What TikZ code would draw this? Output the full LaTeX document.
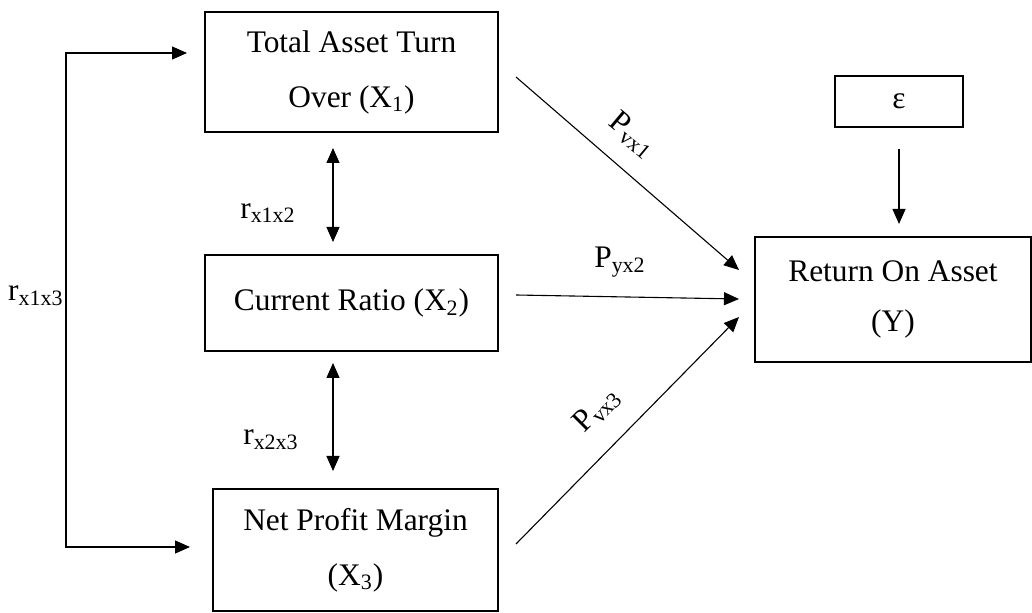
\documentclass[tikz,border=0pt]{standalone}
\usepackage{fontspec}
\setmainfont{Liberation Serif}
\usetikzlibrary{arrows.meta,calc}
\begin{document}
\begin{tikzpicture}[x=0.5pt,y=-0.5pt,
  box/.style={draw, line width=1pt, inner sep=0pt, align=center,
    font=\fontsize{15.7pt}{27.5pt}\selectfont},
  tip/.tip={Triangle[length=7.5pt,width=6.5pt]},
  con/.style={line width=0.55pt, -tip},
  dcon/.style={line width=0.55pt, tip-tip},
  lbl/.style={inner sep=0pt, font=\fontsize{15.7pt}{18pt}\selectfont}]
\useasboundingbox (0,0) rectangle (1032,613);

% variables and outcome
\node[box, minimum width=146.5pt, minimum height=60pt] (X1) at (351.5,72)
  {Total Asset Turn\\Over (X\textsubscript{1})};
\node[box, minimum width=146.5pt, minimum height=48pt] (X2) at (351.5,303)
  {Current Ratio (X\textsubscript{2})};
\node[box, minimum width=142.5pt, minimum height=61pt] (X3) at (355.5,550)
  {Net Profit Margin\\(X\textsubscript{3})};
\node[box, minimum width=64pt, minimum height=25.5pt] (E) at (899,101.5) {ε};
\node[box, minimum width=138pt, minimum height=62.5pt,
  font=\fontsize{15.7pt}{25pt}\selectfont] (Y) at (893,299.5)
  {Return On Asset\\(Y)};

% path coefficients
\draw[con] ($(X1.east)+(17,5)$) -- ($(Y.west)+(-15,-29.5)$);
\draw[con] ($(X2.east)+(17,-8)$) -- ($(Y.west)+(-15,-0.5)$);
\draw[con] ($(X3.east)+(17,-6)$) -- ($(Y.west)+(-15,17.5)$);
\draw[con] ($(E.south)+(0,21)$) -- ($(E.south |- Y.north)+(0,-12)$);

% correlations
\draw[dcon] ($(X1.south)+(-18.5,15)$) -- ($(X2.north)+(-18.5,-12)$);
\draw[dcon] ($(X2.south)+(-18.5,11)$) -- ($(X3.north)+(-22.5,-17)$);
\draw[dcon] ($(X1.west)+(-17,-19)$) -- ++(-121,0) |- ($(X3.west)+(-22,-3)$);

% labels
\node[lbl] (r12) at (268,213) {r\textsubscript{x1x2}};
\node[lbl] (r23) at (271,440) {r\textsubscript{x2x3}};
\node[lbl, anchor=east] (r13) at (64,296) {r\textsubscript{x1x3}};
\node[lbl] (p2) at (620,262) {P\textsubscript{yx2}};
\node[lbl, rotate=-40] (p1) at (632,135) {P\textsubscript{vx1}};
\node[lbl, rotate=45] (p3) at (597,410) {P\textsubscript{vx3}};
\end{tikzpicture}
\end{document}
